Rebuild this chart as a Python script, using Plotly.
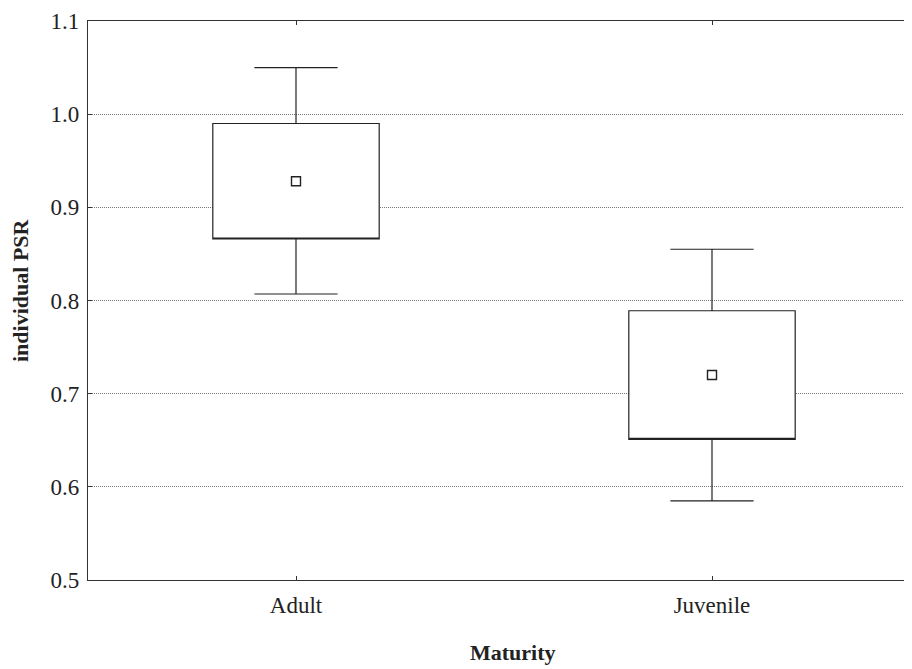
import plotly.graph_objects as go

categories = ["Adult", "Juvenile"]
means = [0.928, 0.720]
box_low = [0.866, 0.651]
box_high = [0.990, 0.789]
whisk_low = [0.807, 0.585]
whisk_high = [1.050, 0.855]
y_ticks = [0.5, 0.6, 0.7, 0.8, 0.9, 1.0, 1.1]
y_ticktext = ["0.5", "0.6", "0.7", "0.8", "0.9", "1.0", "1.1"]

FONT = "Liberation Serif, Times New Roman, serif"
INK = "#222222"

W, H = 912, 669
ML, MR, MT, MB = 80, 0, 13, 97
PW = W - ML - MR
PH = H - MT - MB

fig = go.Figure()
fig.add_trace(go.Box(
    x=categories,
    q1=box_low,
    median=box_low,
    q3=box_high,
    lowerfence=whisk_low,
    upperfence=whisk_high,
    width=0.4,
    whiskerwidth=0.5,
    fillcolor="white",
    line=dict(color=INK, width=1.2),
    boxpoints=False,
    showlegend=False,
    hoverinfo="skip",
))
fig.add_trace(go.Scatter(
    x=categories,
    y=means,
    mode="markers",
    marker=dict(symbol="square-open", size=9, color=INK, line=dict(width=1.4, color=INK)),
    showlegend=False,
    hoverinfo="skip",
))

fig.update_layout(
    width=W, height=H,
    margin=dict(l=ML, r=MR, t=MT, b=MB),
    paper_bgcolor="white", plot_bgcolor="white",
    font=dict(family=FONT, size=22, color=INK),
    showlegend=False,
)
fig.update_xaxes(
    type="category",
    range=[-0.5, 1.5],
    showline=True, linecolor="#333333", linewidth=1.4,
    mirror="ticks",
    ticks="inside", ticklen=4, tickcolor="#333333",
    showgrid=False, zeroline=False,
    tickfont=dict(family=FONT, size=23, color=INK),
    ticklabelstandoff=4,
)
fig.update_yaxes(
    range=[0.5, 1.1],
    tickvals=y_ticks, ticktext=y_ticktext,
    showline=True, linecolor="#333333", linewidth=1.4,
    mirror=False,
    ticks="inside", ticklen=4, tickcolor="#333333",
    showgrid=True, gridcolor="#777777", gridwidth=1, griddash="1px,1px",
    zeroline=False,
    tickfont=dict(family=FONT, size=23, color=INK),
    ticklabelstandoff=3,
)
fig.add_annotation(
    text="<b>Maturity</b>", xref="paper", yref="paper",
    x=(505 - ML) / PW, y=-(644 - (H - MB)) / PH,
    xanchor="center", yanchor="middle", showarrow=False,
    font=dict(family=FONT, size=22, color=INK),
)
fig.add_annotation(
    text="<b>individual PSR</b>", xref="paper", yref="paper",
    x=(12 - ML) / PW, y=((H - MB) - 282) / PH,
    xanchor="center", yanchor="middle", showarrow=False, textangle=-90,
    font=dict(family=FONT, size=22, color=INK),
)
fig.write_html("out.html")
